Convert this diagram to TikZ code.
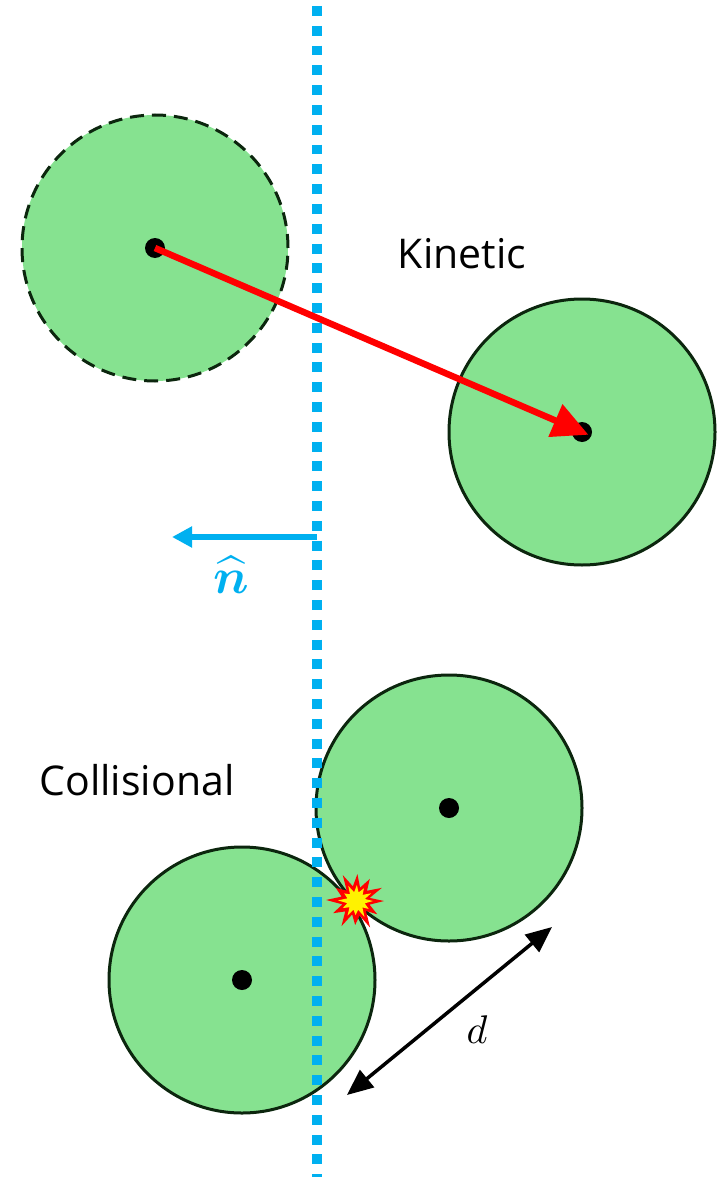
\documentclass[tikz,border=0pt]{standalone}
\usepackage{amsmath}
\usepackage{bm}
\usepackage{fontspec}
\setmainfont{Open Sans}
\usetikzlibrary{arrows.meta}
\definecolor{ballgreen}{RGB}{134,226,144}
\definecolor{balledge}{RGB}{12,38,14}
\definecolor{wallblue}{RGB}{0,176,240}
\begin{document}
\begin{tikzpicture}[x=1pt,y=-1pt,
  ball/.style={circle,fill=ballgreen,draw=balledge,line width=3pt,minimum size=266pt,inner sep=0pt},
  ghost/.style={ball,dash pattern=on 14pt off 8pt},
  cdot/.style={circle,fill=black,minimum size=20pt,inner sep=0pt},
  lbl/.style={font=\fontsize{41}{48}\selectfont,inner sep=0pt}]
\path[use as bounding box] (0,0) rectangle (721,1177);

% balls
\node[ghost] (b1) at (155,248) {};
\node[ball] (b2) at (582,432) {};
\node[ball] (b3) at (449,808) {};
\node[ball] (b4) at (242,980) {};

% wall
\coordinate (wtop) at (317,6);
\coordinate (wbot) at (317,1177);
\draw[wallblue,line width=10pt,dash pattern=on 9.9pt off 9.9pt] (wtop) -- (wbot);

% centres
\node[cdot] (d1) at (b1.center) {};
\node[cdot] (d2) at (b2.center) {};
\node[cdot] (d3) at (b3.center) {};
\node[cdot] (d4) at (b4.center) {};

% displacement arrow
\draw[red,line width=6.5pt,-{Triangle[length=36pt,width=34pt]},shorten >=-7pt] (d1.center) -- (d2.center);

% normal
\coordinate (nstart) at (317,537);
\coordinate (nend) at (172,537);
\draw[wallblue,line width=5.5pt,-{Triangle[length=20pt,width=20pt]}] (nstart) -- (nend);
\node[text=wallblue,inner sep=0pt] (nlbl) at (231,575) {\scalebox{5}{$\bm{\widehat{n}}$}};

% labels
\node[lbl,anchor=base] (kin) at (462,268) {Kinetic};
\node[lbl,anchor=base] (col) at (137,795) {Collisional};

% distance
\coordinate (da) at (347,1095);
\coordinate (db) at (552,927);
\draw[black,line width=3.5pt,{Triangle[length=26pt,width=22pt]}-{Triangle[length=26pt,width=22pt]}] (da) -- (db);
\node[inner sep=0pt] (dlbl) at (477,1030) {\scalebox{4}{$d$}};

% collision burst
\begin{scope}[shift={(356,901)}]
\fill[red] (0:28) -- (15:14) -- (32:25) -- (45:14) -- (62:30) -- (76:15) -- (92:24) -- (106:14) -- (120:29) -- (136:15) -- (152:26) -- (166:14) -- (182:30) -- (197:15) -- (213:24) -- (228:14) -- (243:29) -- (258:15) -- (273:27) -- (287:14) -- (302:26) -- (317:15) -- (333:29) -- (347:14) -- cycle;
\fill[yellow] (0:17) -- (15:9) -- (32:15) -- (45:9) -- (62:18) -- (76:9) -- (92:14) -- (106:9) -- (120:17) -- (136:9) -- (152:15) -- (166:9) -- (182:18) -- (197:9) -- (213:14) -- (228:9) -- (243:17) -- (258:9) -- (273:16) -- (287:9) -- (302:15) -- (317:9) -- (333:17) -- (347:9) -- cycle;
\end{scope}
\end{tikzpicture}
\end{document}
